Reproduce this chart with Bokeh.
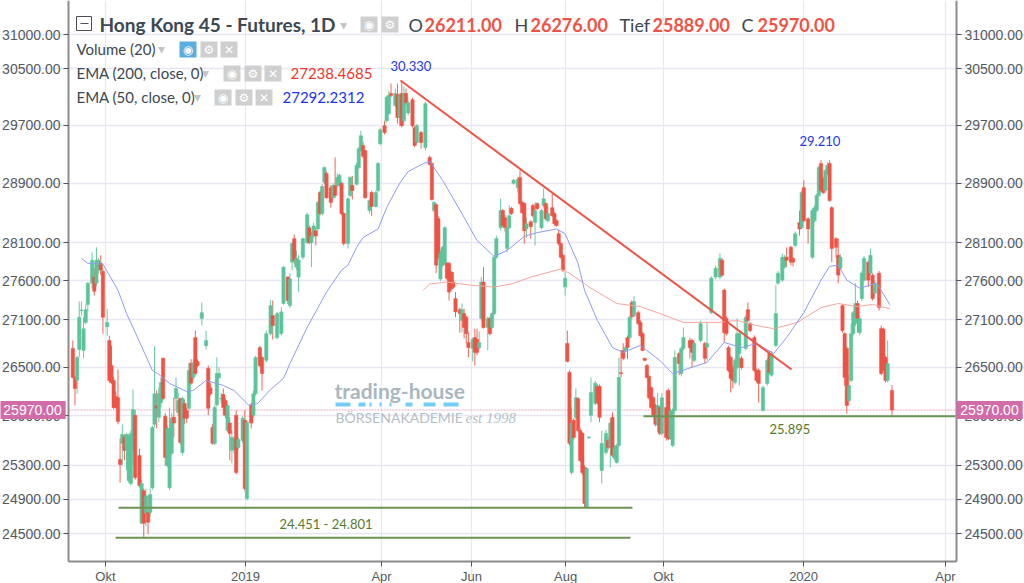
from bokeh.plotting import figure
from bokeh.embed import file_html
from bokeh.resources import INLINE
from bokeh.models import (ColumnDataSource, FixedTicker, Label, BoxAnnotation, LogAxis, Range1d)

# ---- price candles (bar index, open, high, low, close) ----
bars = [
 2,3,4,5,6,7,8,9,11,12,
 13,14,15,16,18,19,20,21,22,23,
 24,25,26,27,28,29,30,31,33,34,
 35,36,37,38,39,40,41,42,43,44,
 45,46,47,48,49,50,51,52,53,54,
 55,56,57,58,59,60,62,64,65,66,
 67,68,69,70,71,72,73,74,75,76,
 77,78,79,81,82,83,85,86,87,89,
 90,92,94,95,97,99,100,102,103,104,
 105,106,107,109,111,112,113,114,115,116,
 117,118,119,120,122,123,124,125,126,127,
 128,130,131,132,134,135,136,137,138,140,
 141,143,144,145,147,148,149,150,152,153,
 154,155,156,157,158,160,161,162,164,166,
 168,169,170,171,172,173,174,175,176,177,
 178,179,180,182,183,184,185,186,188,189,
 190,191,192,193,195,196,197,198,199,201,
 202,203,204,205,206,207,209,210,211,212,
 213,215,216,217,218,220,221,222,223,225,
 226,227,228,229,230,231,232,233,234,235,
 236,237,238,239,240,241,242,243,245,246,
 247,248,250,251,252,253,254,255,256,257,
 258,259,260,261,262,263,265,266,267,268,
 269,270,271,272,273,274,275,276,278,279,
 280,281,282,284,285,286,289,290,291,294,
 296,297,299,301,303,304,305,306,307,308,
 309,310,311,312,313,315,316,317,319,320,
 321,323,325,326,327,329,330,332,333,334,
 336,337,338,340,341,342,344,346,347,348,
 349,350,351,352,353,354,355,357,358,359,
 360,361,362,363,364,365,366,367,368,369,
 370,372,373,374,375,377,378,379,380,381,
 383]
opens = [
 26735,26372,26335,26722,27215,26710,27065,27295,27570,27650,
 27570,27755,27830,27725,27010,26835,26520,26335,26135,26120,
 25372,25565,25636,25480,25120,25085,25480,25905,25420,24620,
 25000,24735,24745,24745,25035,25795,26025,25880,26060,26610,
 25893,25300,25035,25445,25880,26110,25940,26110,25455,26050,
 25965,25990,26550,26372,26872,26570,27115,26770,26485,26245,
 25757,25565,26035,26370,26105,26160,26085,25720,25810,25480,
 25490,25905,25515,25600,25845,24908,26035,25905,26170,26745,
 26622,26585,26922,27152,26872,26922,27307,27650,27280,27845,
 28155,27780,27650,27910,28105,28300,28105,28195,28260,28285,
 28775,28490,28915,29035,28840,28705,28870,28870,28870,28900,
 28490,28090,28735,28870,28885,29115,29350,29420,29350,28530,
 28775,28585,28800,29445,29695,29765,29865,30150,29980,30135,
 29810,30150,29765,30150,29875,30060,29665,29460,29600,29390,
 29255,29170,28530,28610,28420,27625,27805,27830,27830,27830,
 27715,27585,27370,27228,27090,27178,27130,26810,26735,26872,
 26850,26745,27115,27585,27000,27115,27000,27178,27910,28300,
 28530,28435,28025,28300,28560,28900,28840,28980,28640,28625,
 28285,28380,28600,28370,28625,28300,28600,28625,28395,28570,
 28490,28395,28220,28090,27935,27520,26797,26435,25215,25845,
 25880,26110,25720,25685,25276,24805,25630,25905,26050,26260,
 26260,25240,25455,25600,25515,25880,25385,25335,25540,26430,
 26710,26710,26872,26872,27320,27150,27190,27065,26922,26610,
 26520,26385,26245,26120,26025,25785,26000,25685,26000,26210,
 25636,25540,25965,26670,26420,26735,26835,26835,26585,26835,
 26797,26750,27190,27650,27650,27870,27480,27115,26745,26622,
 26495,26310,26495,26672,26610,26735,27228,27050,26872,26460,
 26460,25965,26297,26670,26400,26772,27570,27610,27780,27910,
 28040,27895,28065,28370,28300,28840,28420,27910,28395,28530,
 28735,29170,28965,28800,29035,29170,28570,28155,27935,27765,
 27280,26922,26735,26085,26335,26922,27050,27307,26935,27370,
 27610,27845,27700,27675,27440,27700,26985,26980,26622,26335,
 26211]
highs = [
 26835,26390,26640,27333,27333,27130,27295,27585,27975,27765,
 28040,27900,27935,27745,27240,26895,26770,26380,26200,26470,
 25625,25795,25672,25690,25672,25720,26222,25965,25500,25120,
 25025,25025,24940,25025,25780,26760,26210,26245,26372,26620,
 25930,25770,26000,25930,26120,26372,26180,26120,26130,26100,
 26000,26550,26600,26600,26960,26600,27320,26960,26520,26300,
 25800,26030,26622,26500,26180,26235,26110,26045,25880,25720,
 25650,25965,25640,25900,25965,25845,26060,26210,26640,26770,
 26640,26960,27350,27345,27200,27260,27790,27660,27700,28110,
 28210,28000,27935,28170,28505,28330,28250,28370,28300,28660,
 28800,28890,29130,29060,28870,28900,29255,29035,29030,28920,
 28510,28710,28995,29000,29180,29400,29625,29470,29360,28690,
 28800,28800,29190,29660,29765,30120,30190,30290,30220,30290,
 30150,30330,30250,30220,30050,30090,29690,29720,29625,30030,
 29280,29190,28660,28630,28450,28000,28060,28320,27850,27850,
 27730,27715,27455,27250,27305,27240,27150,26935,26870,26985,
 26985,26950,27650,27780,27140,27140,27200,27925,28195,28690,
 28550,28470,28320,28600,28580,28960,28980,29075,28660,28640,
 28435,28400,28620,28640,28640,28555,28830,28640,28600,28760,
 28510,28410,28275,28105,27950,27715,26960,26460,26000,25870,
 26235,26130,25745,25700,25300,25280,25650,26372,26330,26285,
 26285,25720,25730,25640,25870,25940,25540,25560,26622,26710,
 26800,26770,26900,27150,27345,27400,27215,27090,26940,26620,
 26540,26400,26260,26140,26045,26180,26020,26180,26210,26235,
 25990,25990,26710,26690,26760,27000,26872,26860,26830,27090,
 26820,27065,27660,27800,27960,27895,27500,27140,26770,26640,
 26520,26610,27115,26950,26640,27160,27320,27070,26900,26480,
 26480,26270,26610,26700,26700,27545,27730,27960,27940,28040,
 28060,27910,28250,28530,28800,28940,28440,28560,28600,28760,
 29140,29215,28990,29100,29190,29215,28590,28175,28155,27950,
 27300,26940,26760,26400,27050,27215,27570,27345,27140,27730,
 27925,27870,28025,27700,27600,27730,27025,27000,26640,26835,
 26276]
lows = [
 26360,26025,26170,26622,27150,26610,27040,27215,27500,27410,
 27530,27700,27675,26920,26895,26300,26290,25980,25990,25795,
 25095,25300,25360,25240,25095,25060,25300,25130,25040,24610,
 24451,24585,24495,24690,25010,25757,25745,25820,26000,26090,
 25300,25280,25010,25420,25636,25965,25900,25550,25420,25800,
 25810,25970,26280,26340,26400,26500,27025,26720,25905,26150,
 25550,25540,26010,26350,26050,25905,25870,25700,25360,25325,
 25440,25190,25490,25570,25000,24885,25745,25880,26150,26500,
 26210,26560,26900,26848,26850,26900,27290,27300,27250,27740,
 27820,27740,27455,27880,28080,28080,27780,28170,28065,28260,
 28465,28465,28890,28690,28570,28680,28700,28850,28850,28470,
 28065,28025,28710,28680,28870,29090,29330,29240,28690,28490,
 28460,28570,28780,29420,29570,29740,29840,30095,29960,29725,
 29695,29670,29740,29980,29840,29670,29395,29440,29375,29350,
 29140,28665,28500,27700,27880,27600,27780,27810,27610,27345,
 27470,27500,27130,26935,26935,26860,26800,26622,26572,26520,
 26650,26720,27090,26985,26710,26900,26985,27160,27890,28260,
 28310,28250,27975,28280,28470,28880,28775,28600,28490,28090,
 28170,28155,28440,28065,28540,28280,28570,28400,28370,28445,
 28330,28315,28065,27890,27715,27410,26560,25540,25190,25610,
 25860,25700,25340,25190,24800,24801,25620,25820,26030,26040,
 25820,25085,25430,25490,25276,25400,25360,25320,25520,26372,
 26585,26700,26600,26850,27110,27130,27030,26880,26700,26575,
 26360,26100,25980,25880,25770,25700,25665,25660,25600,25600,
 25610,25520,25940,26400,26385,26710,26610,26495,26560,26810,
 26545,26585,27170,27620,27620,27655,26810,26900,26440,26185,
 26235,26285,26470,26272,26470,26710,27065,26940,26440,26310,
 26060,25950,26270,26410,26380,26750,27550,27590,27760,27780,
 27805,27790,28040,28195,28280,28370,28090,27885,28370,28510,
 28710,28780,28750,28770,29010,28650,27845,27900,27570,27740,
 26935,26272,25925,26060,26310,26900,27020,26935,26900,27340,
 27590,27520,27675,27345,27400,27215,26400,26450,26310,26310,
 25889]
closes = [
 26372,26235,26622,27130,27225,26985,27228,27570,27870,27465,
 27870,27870,27740,27130,27065,26335,26310,26000,26000,25830,
 25312,25672,25480,25672,25660,25685,25977,25155,25060,25085,
 24620,24940,24630,24955,25757,26170,25990,26170,26310,26110,
 25395,25745,25745,25870,25810,26235,26085,25575,26110,25870,
 25870,26460,26300,26550,26420,26520,27190,26835,25990,26170,
 25565,26000,26420,26420,26115,26000,25905,26025,25685,25636,
 25620,25215,25612,25870,25025,25820,25810,26170,26622,26520,
 26420,26922,27280,27025,27178,27200,27780,27345,27625,28090,
 27870,27895,27870,28155,28475,28105,28190,28325,28190,28640,
 28490,28855,29115,28705,28640,28870,28735,28980,29010,28490,
 28090,28690,28980,28800,29145,29375,29555,29270,28705,28665,
 28585,28775,29170,29640,29600,30095,30120,30120,30150,29810,
 30120,29695,30150,30020,30020,29695,29420,29695,29460,30005,
 29160,28680,28640,27805,27910,27960,28040,28300,27635,27455,
 27495,27520,27200,27178,27228,27000,26922,26745,26848,26685,
 26685,26810,27585,27000,27115,26922,27178,27910,28155,28530,
 28330,28300,28300,28460,28490,28940,28955,28625,28500,28260,
 28355,28315,28460,28530,28555,28530,28690,28420,28490,28460,
 28355,28330,28090,27910,27740,27635,26572,25565,25810,25636,
 26120,25720,25360,25215,24850,25264,25640,26185,26300,26060,
 25880,25565,25685,25515,25810,25420,25515,25540,26372,26420,
 26610,26745,26745,27130,27140,27333,27050,26897,26710,26585,
 26372,26120,26000,25905,25795,26025,25685,26120,25636,25620,
 25965,25965,26622,26545,26735,26872,26745,26685,26800,27050,
 26610,26797,27635,27765,27895,27675,26935,26922,26460,26360,
 26335,26585,26922,26922,26495,27130,27090,26960,26460,26335,
 26297,26245,26585,26435,26670,27178,27700,27910,27910,27870,
 27845,27845,28220,28285,28775,28395,28285,28530,28570,28735,
 29115,28800,28775,29075,29145,28665,28025,28040,27675,27910,
 26960,26372,26025,26272,26922,27190,27307,27115,27115,27700,
 27895,27610,27935,27370,27570,27255,26420,26470,26335,26545,
 25970]

# ---- indicators ----
ema50_bars = [6,9,16,23,27,30,39,42,47,55,58,64,72,77,84,88,94,100,103,111,120,127,130,134,137,144,148,154,158,165,168,174,183,190,198,204,212,218,227,231,237,240,246,253,258,266,275,281,297,305,313,320,328,334,342,350,354,358,362,368,376,382]
ema50 = [27895,27830,27820,27480,27178,27000,26460,26410,26297,26197,26210,26335,26272,26210,26025,26050,26222,26360,26545,27000,27455,27740,27805,28040,28170,28285,28570,28900,29060,29170,29200,28940,28490,28130,27920,28000,28185,28235,28285,28220,27830,27480,27090,26745,26685,26772,26585,26420,26560,26810,26745,26797,26672,26872,27190,27610,27790,27805,27610,27505,27570,27292]
ema200_bars = [165,168,176,187,198,206,215,229,233,243,255,266,275,286,302,311,320,328,339,350,358,367,374,382]
ema200 = [27480,27560,27585,27545,27520,27560,27650,27755,27700,27505,27307,27268,27178,27065,27065,27090,27025,26985,27065,27255,27307,27268,27295,27238]

# ---- drawn objects ----
trend_bars = [154.4, 336.3]
trend_prices = [30335, 26470]
support_a_bars = [23.3, 262.3]
support_a = [24801, 24801]
support_b_bars = [21.9, 261.4]
support_b = [24451, 24451]
support_c_bars = [267.4, 412.5]
support_c = [25895, 25895]

y_ticks = [31000, 30500, 29700, 28900, 28100, 27600, 27100, 26500, 25900, 25300, 24900, 24500]
x_ticks = [17.2, 82.3, 145.6, 187.4, 231.2, 276.7, 341.9, 407.9]
x_labels = ["Okt", "2019", "Apr", "Jun", "Aug", "Okt", "2020", "Apr"]
last_price = 25970
last_line_bars = [0, 413]
last_line = [last_price, last_price]

W, H = 1024, 583
AX_LEFT, AX_RIGHT = 0, 413      # bar numbers at which the two price axes stand
AX_TOP, AX_BOTTOM = 31501, 24178  # prices at the top and bottom of the plot area
GREEN, RED = "#5cc49a", "#ef5345"
GRID = "#e7e7f5"
AXC = "#8c8c8c"
TXT = "#555a5e"

up = [c >= o for o, c in zip(opens, closes)]
src = ColumnDataSource(dict(
    x=bars, o=opens, h=highs, l=lows, c=closes,
    col=[GREEN if u else RED for u in up]))

# The frame fills the whole canvas, the axes stand inside it, so the price tags can lie over them.
p = figure(width=W, height=H, y_axis_type="log", output_backend="svg", toolbar_location=None,
           x_range=Range1d(-31.63, 444.65), y_range=Range1d(23930, AX_TOP),
           min_border_left=0, min_border_right=0, min_border_top=0, min_border_bottom=0,
           background_fill_color="white", border_fill_color="white", outline_line_color=None)

def style(ax, loc):
    ax.fixed_location = loc
    ax.bounds = (AX_BOTTOM, AX_TOP)
    ax.ticker = FixedTicker(ticks=y_ticks)
    ax.major_label_overrides = {t: f"{t}.00" for t in y_ticks}
    ax.axis_line_color = AXC
    ax.axis_line_width = 2
    ax.major_tick_line_color = "#555555"
    ax.major_tick_out = 5
    ax.major_tick_in = 0
    ax.minor_tick_line_color = None
    ax.major_label_text_color = TXT
    ax.major_label_text_font = "Liberation Sans"
    ax.major_label_text_font_size = "14px"
    ax.major_label_standoff = 3

style(p.yaxis[0], AX_LEFT)
right = LogAxis()
style(right, AX_RIGHT)
p.add_layout(right, "right")

xa = p.xaxis[0]
xa.fixed_location = AX_BOTTOM
xa.bounds = (AX_LEFT, AX_RIGHT)
xa.ticker = FixedTicker(ticks=x_ticks)
xa.major_label_overrides = dict(zip(x_ticks, x_labels))
xa.axis_line_color = AXC
xa.axis_line_width = 2
xa.major_tick_line_color = "#555555"
xa.major_tick_out = 5
xa.major_tick_in = 0
xa.minor_tick_line_color = None
xa.major_label_text_color = TXT
xa.major_label_text_font = "Liberation Sans"
xa.major_label_text_font_size = "13px"
xa.major_label_standoff = 2

p.xgrid[0].ticker = FixedTicker(ticks=x_ticks)
p.ygrid[0].ticker = FixedTicker(ticks=y_ticks)
p.xgrid[0].bounds = (AX_BOTTOM, AX_TOP)
p.ygrid[0].bounds = (AX_LEFT, AX_RIGHT)
p.xgrid[0].grid_line_color = GRID
p.ygrid[0].grid_line_color = GRID
p.xgrid[0].grid_line_width = 1.2
p.ygrid[0].grid_line_width = 1.5
p.xgrid[0].minor_grid_line_color = None
p.ygrid[0].minor_grid_line_color = None

p.line(last_line_bars, last_line, line_color="#e9a6c8", line_width=1, line_dash="2 1")

def lbl(px, py, text, size, color, font="Lato", style="normal", align="left", baseline="middle", **kw):
    l = Label(x=px, y=H - py, x_units="screen", y_units="screen", text=text,
              text_font=font, text_font_size=f"{size}px", text_color=color, text_font_style=style,
              text_align=align, text_baseline=baseline, **kw)
    p.add_layout(l)
    return l

def box(x0, y0, x1, y1, fill, line=None, level="underlay"):
    p.add_layout(BoxAnnotation(left=x0, right=x1, top=H - y0, bottom=H - y1,
                               left_units="screen", right_units="screen", top_units="screen", bottom_units="screen",
                               fill_color=fill, fill_alpha=1 if fill else 0, line_color=line, line_alpha=1 if line else 0,
                               level=level))

# watermark
WM = "#a9b7c1"
lbl(334, 390, "trading-house", 21, WM, style="bold")
for a, b in [(335, 350), (358, 365), (369, 371), (379, 381), (389, 391), (405, 412), (423, 435), (443, 458)]:
    box(a, 402, b, 406, "#71cdf5")
lbl(335, 417, "BÖRSENAKADEMIE", 14, "#b3bfc7")
lbl(465, 417, "est 1998", 15, "#b3bfc7", font="Liberation Serif", style="italic")

# candles
p.segment("x", "h", "x", "l", source=src, line_color="col", line_width=1, line_alpha=0.9)
p.vbar(x="x", top="o", bottom="c", width=1.55, source=src, fill_color="col", line_color="col", line_width=0.5)

# indicators and lines
p.line(ema200_bars, ema200, line_color="#f3a79f", line_width=1)
p.line(ema50_bars, ema50, line_color="#8f9bf0", line_width=1)
p.line(trend_bars, trend_prices, line_color="#ef5345", line_width=2)
for xs, ys in [(support_a_bars, support_a), (support_b_bars, support_b), (support_c_bars, support_c)]:
    p.line(xs, ys, line_color="#6b9452", line_width=2)

BLUE = "#2236e8"
OLIVE = "#567a2c"
lbl(390, 65, "30.330", 13, BLUE)
lbl(799, 140, "29.210", 13, BLUE)
lbl(279, 523, "24.451 - 24.801", 13, OLIVE)
lbl(769, 428, "25.895", 13, OLIVE)

# header
DARK = "#3c4852"
box(76, 16, 91, 30, None, "#4a4f55")
box(80, 22.5, 88, 23.5, "#4a4f55")
lbl(99, 24, "Hong Kong 45 - Futures, 1D", 19, DARK, style="bold")
lbl(408, 24, "O", 18, DARK)
lbl(424, 24, "26211.00", 18, RED, style="bold")
lbl(514, 24, "H", 18, DARK)
lbl(530, 24, "26276.00", 18, RED, style="bold")
lbl(619, 24, "Tief", 18, DARK)
lbl(652, 24, "25889.00", 18, RED, style="bold")
lbl(741, 24, "C", 18, DARK)
lbl(757, 24, "25970.00", 18, RED, style="bold")
lbl(76, 48, "Volume (20)", 15, DARK)
lbl(76, 72, "EMA (200, close, 0)", 15, DARK)
lbl(290, 73, "27238.4685", 15, "#f0362a")
lbl(76, 96, "EMA (50, close, 0)", 15, DARK)
lbl(282, 97, "27292.2312", 15, "#1a35f0")

ICON = "#cfcfcf"
def arrow(x, y):
    lbl(x, y, "▾", 14, "#c4c4c4", font="DejaVu Sans", align="center")
def icons(xs, y, fills):
    marks = ["◉", "⚙", "✕"]
    for x, f, m in zip(xs, fills, marks):
        box(x, y - 8, x + 17, y + 8, f)
        lbl(x + 8.5, y, m, 12, "white", font="DejaVu Sans", align="center")

arrow(343, 24)
icons([360, 381], 24, [ICON, ICON])
arrow(161, 48)
icons([179, 200, 220], 49, ["#5aaee0", ICON, ICON])
arrow(205, 72)
icons([223, 244, 264], 73, [ICON, ICON, ICON])
arrow(197, 96)
icons([214, 235, 255], 97, [ICON, ICON, ICON])

# last price tags
PINK = "#d16ca8"
for x in (32, 989):
    lbl(x, 409.5, f"{last_price}.00", 14, "white", font="Liberation Sans", align="center",
        background_fill_color=PINK, padding=4, level="overlay")

open("out.html", "w").write(file_html(p, INLINE))
